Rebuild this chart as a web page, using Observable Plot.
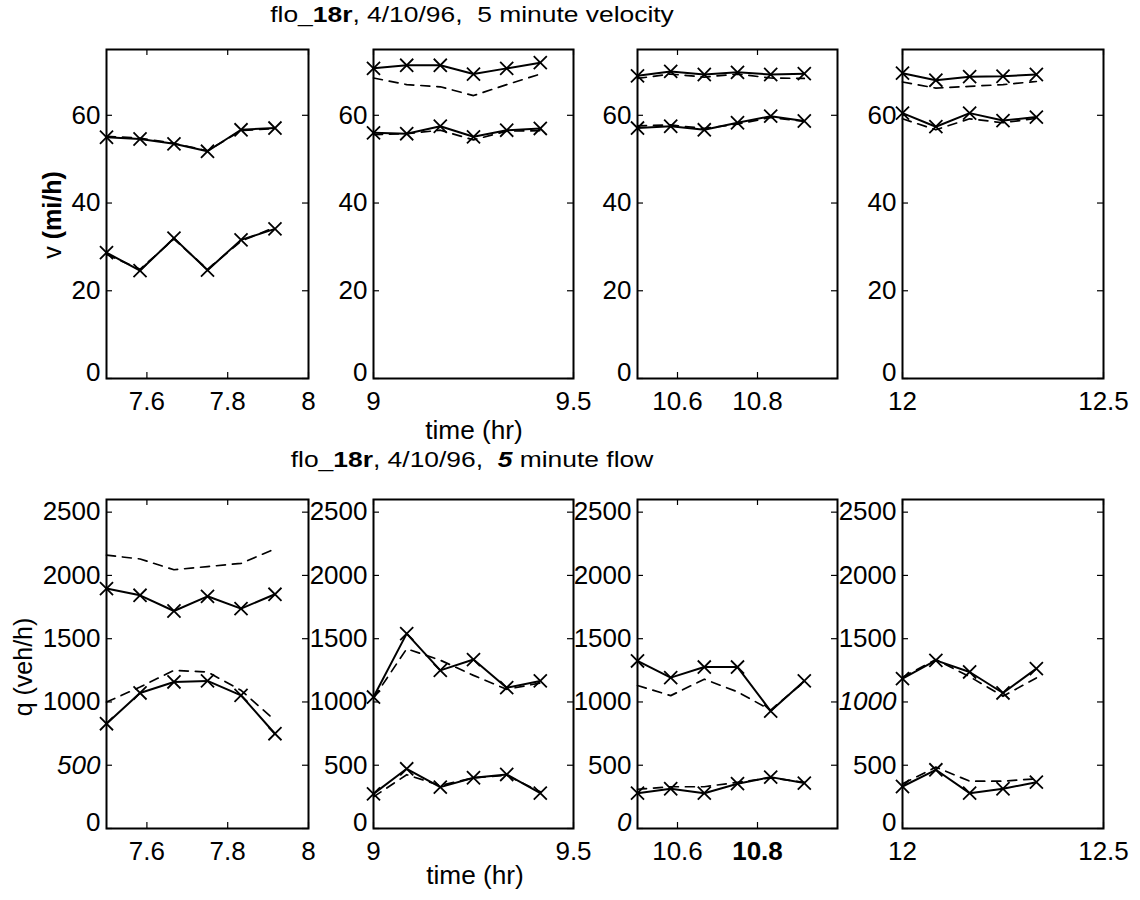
<!DOCTYPE html>
<html><head><meta charset="utf-8">
<script src="https://cdn.jsdelivr.net/npm/d3@7"></script>
<script src="https://cdn.jsdelivr.net/npm/@observablehq/plot@0.6"></script>
<style>
body{margin:0;background:#fff;}
#wrap{position:relative;width:1140px;height:900px;overflow:hidden;font-family:"Liberation Sans",Arial,Helvetica,sans-serif;color:#000;}
.lbl{position:absolute;white-space:nowrap;line-height:1;}
.pnl{position:absolute;}
</style></head><body><div id="wrap"></div>
<script>
// ---- time stamps (hr) of 5-minute samples per window ----
const timesA = [7.5, 7.583, 7.667, 7.75, 7.833, 7.917];
const timesB = [9.0, 9.083, 9.167, 9.25, 9.333, 9.417];
const timesC = [10.5, 10.583, 10.667, 10.75, 10.833, 10.917];
const timesD = [12.0, 12.083, 12.167, 12.25, 12.333];

// ---- velocity (mi/h): solid = measured (with x markers), dashed = estimate ----
const vA_hiSolid = [55.0, 54.6, 53.5, 51.8, 56.7, 57.1];
const vA_hiDash  = [55.2, 54.8, 53.6, 51.9, 56.5, 57.0];
const vA_loSolid = [28.7, 24.6, 32.0, 24.7, 31.6, 34.1];
const vA_loDash  = [28.3, 24.9, 31.8, 24.9, 31.3, 34.5];
const vB_hiSolid = [70.7, 71.4, 71.4, 69.4, 70.7, 72.0];
const vB_hiDash  = [68.5, 67.0, 66.5, 64.5, 67.0, 69.4];
const vB_loSolid = [56.0, 55.8, 57.5, 55.1, 56.6, 57.0];
const vB_loDash  = [55.6, 55.8, 56.6, 54.4, 56.4, 56.5];
const vC_hiSolid = [69.0, 70.0, 69.3, 69.8, 69.3, 69.5];
const vC_hiDash  = [68.4, 69.4, 68.7, 69.4, 68.5, 68.4];
const vC_loSolid = [57.1, 57.5, 56.7, 58.3, 59.8, 58.7];
const vC_loDash  = [57.6, 57.8, 57.0, 58.0, 59.5, 58.6];
const vD_hiSolid = [69.6, 68.0, 68.8, 68.9, 69.3];
const vD_hiDash  = [67.6, 66.2, 66.6, 67.0, 67.7];
const vD_loSolid = [60.5, 57.4, 60.5, 58.8, 59.6];
const vD_loDash  = [59.2, 56.7, 59.2, 58.3, 59.3];

// ---- flow (veh/h) ----
const qA_hiSolid = [1896, 1843, 1719, 1835, 1738, 1851];
const qA_hiDash  = [2160, 2130, 2045, 2070, 2095, 2210];
const qA_loSolid = [828, 1071, 1158, 1166, 1052, 749];
const qA_loDash  = [999, 1118, 1250, 1237, 1092, 854];
const qB_hiSolid = [1039, 1540, 1250, 1335, 1113, 1166];
const qB_hiDash  = [1030, 1420, 1330, 1210, 1100, 1150];
const qB_loSolid = [274, 472, 327, 401, 427, 279];
const qB_loDash  = [250, 425, 340, 400, 420, 290];
const qC_hiSolid = [1324, 1192, 1276, 1276, 928, 1166];
const qC_hiDash  = [1130, 1050, 1180, 1080, 936, 1160];
const qC_loSolid = [279, 314, 279, 354, 406, 359];
const qC_loDash  = [310, 330, 330, 365, 400, 365];
const qD_hiSolid = [1184, 1329, 1237, 1071, 1263];
const qD_hiDash  = [1195, 1335, 1200, 1045, 1190];
const qD_loSolid = [332, 464, 279, 314, 366];
const qD_loDash  = [353, 485, 374, 374, 393];

// ---- axes ----
const xDomains = [[7.5, 8], [9, 9.5], [10.5, 11], [12, 12.5]];
const xTickSets = [[7.6, 7.8, 8], [9, 9.5], [10.6, 10.8], [12, 12.5]];
const vDomain = [0, 75];
const vTicks = [0, 20, 40, 60];
const qDomain = [0, 2600];
const qTicks = [0, 500, 1000, 1500, 2000, 2500];

const FONT = '"Liberation Sans", Arial, Helvetica, sans-serif';
const wrap = document.getElementById("wrap");

// frame geometry (px)
const frameX = [[106, 308], [373, 573], [637, 837], [902, 1103]];
const rows = [{top: 49, bottom: 378}, {top: 499, bottom: 828}];

const toRows = (t, y) => t.map((d, i) => ({t: d, y: y[i]}));

const velData = [
  [timesA, vA_hiSolid, vA_hiDash, vA_loSolid, vA_loDash],
  [timesB, vB_hiSolid, vB_hiDash, vB_loSolid, vB_loDash],
  [timesC, vC_hiSolid, vC_hiDash, vC_loSolid, vC_loDash],
  [timesD, vD_hiSolid, vD_hiDash, vD_loSolid, vD_loDash]
];
const flowData = [
  [timesA, qA_hiSolid, qA_hiDash, qA_loSolid, qA_loDash],
  [timesB, qB_hiSolid, qB_hiDash, qB_loSolid, qB_loDash],
  [timesC, qC_hiSolid, qC_hiDash, qC_loSolid, qC_loDash],
  [timesD, qD_hiSolid, qD_hiDash, qD_loSolid, qD_loDash]
];

const mL = 78, mR = 12, mT = 8, mB = 44;

function panel(row, col, sets, yDomain, yTicks, style = {}) {
  const [x0, x1] = frameX[col];
  const {top, bottom} = rows[row];
  const W = x1 - x0, H = bottom - top;
  const [t, hiS, hiD, loS, loD] = sets;
  const marks = [];
  for (const [s, d] of [[hiS, hiD], [loS, loD]]) {
    marks.push(Plot.line(toRows(t, d), {x: "t", y: "y", stroke: "black", strokeWidth: 1.7, strokeDasharray: "9,7"}));
    marks.push(Plot.line(toRows(t, s), {x: "t", y: "y", stroke: "black", strokeWidth: 2}));
    marks.push(Plot.dot(toRows(t, s), {x: "t", y: "y", symbol: "times", r: 6, stroke: "black", strokeWidth: 1.8}));
  }
  const chart = Plot.plot({
    width: W + mL + mR, height: H + mT + mB,
    marginLeft: mL, marginRight: mR, marginTop: mT, marginBottom: mB,
    x: {domain: xDomains[col], ticks: xTickSets[col], tickFormat: d => String(d), label: null, tickSize: 0, tickPadding: 13},
    y: {domain: yDomain, ticks: yTicks, tickFormat: d => String(d), label: null, tickSize: 0, tickPadding: 6},
    style: {fontFamily: FONT, fontSize: "26px", color: "black", background: "transparent", overflow: "visible"},
    marks: [
      Plot.tickY(yTicks, {y: d => d, insetRight: W - 6, stroke: "black", strokeWidth: 1.2}),
      Plot.tickY(yTicks, {y: d => d, insetLeft: W - 6, stroke: "black", strokeWidth: 1.2}),
      Plot.tickX(xTickSets[col], {x: d => d, insetTop: H - 6, stroke: "black", strokeWidth: 1.2}),
      Plot.tickX(xTickSets[col], {x: d => d, insetBottom: H - 6, stroke: "black", strokeWidth: 1.2}),
      ...marks,
      Plot.frame({stroke: "black", strokeWidth: 2})
    ]
  });
  const sel = d3.select(chart);
  sel.selectAll("text").attr("fill", "black");
  // the zero label sits a little above its tick, as in the original
  sel.selectAll("g[aria-label='y-axis tick label'] text").filter(function() { return this.textContent === "0"; }).attr("dy", "-0.22em");
  if (style.italicY) sel.selectAll("g[aria-label='y-axis tick label'] text").filter(function() { return style.italicY.includes(this.textContent); }).style("font-style", "italic");
  if (style.boldX) sel.selectAll("g[aria-label='x-axis tick label'] text").filter(function() { return style.boldX.includes(this.textContent); }).style("font-weight", "bold");
  const div = document.createElement("div");
  div.className = "pnl";
  div.style.left = (x0 - mL) + "px";
  div.style.top = (top - mT) + "px";
  div.appendChild(chart);
  wrap.appendChild(div);
}

const flowStyles = [{italicY: ["500"]}, {}, {italicY: ["0"], boldX: ["10.8"]}, {italicY: ["1000"]}];
for (let c = 0; c < 4; c++) {
  panel(0, c, velData[c], vDomain, vTicks);
  panel(1, c, flowData[c], qDomain, qTicks, flowStyles[c]);
}

function label(html, x, y, size, rot = 0, sx = 1) {
  const d = document.createElement("div");
  d.className = "lbl";
  d.innerHTML = html;
  d.style.left = x + "px";
  d.style.top = y + "px";
  d.style.fontSize = size + "px";
  d.style.transform = `translate(-50%,-50%) rotate(${rot}deg) scaleX(${sx})`;
  wrap.appendChild(d);
}

label('flo_<b>18r</b>, 4/10/96, &nbsp;5 minute velocity', 472, 15, 22, 0, 1.2);
label('flo_<b>18r</b>, 4/10/96, &nbsp;<b><i>5</i></b> minute flow', 472, 460, 22, 0, 1.2);
label('time (hr)', 474, 430, 25, 0, 1.05);
label('time (hr)', 475, 875, 25, 0, 1.05);
label('v <b>(mi/h)</b>', 52, 215, 25, -90);
label('q (veh/h)', 23, 667, 25, -90);
</script></body></html>
